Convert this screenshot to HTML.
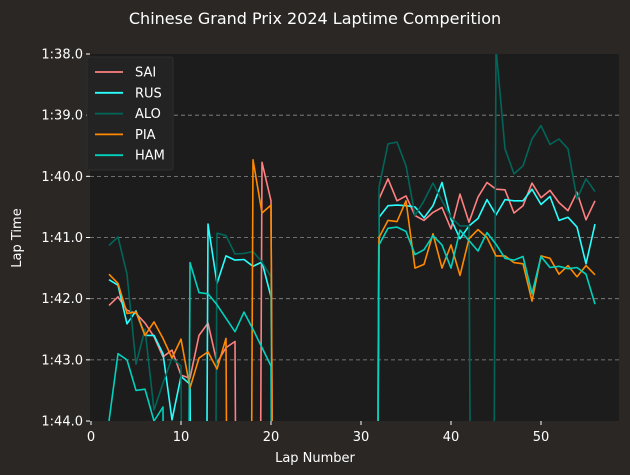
<!DOCTYPE html>
<html><head><meta charset="utf-8"><style>
html,body{margin:0;padding:0;width:630px;height:475px;overflow:hidden;background:#2b2725;}
svg{display:block;font-family:"DejaVu Sans","Liberation Sans",sans-serif;}
</style></head><body>
<svg id="chart" width="630" height="475">
<rect width="630" height="475" fill="#2b2725"/>
<text x="315" y="24" fill="#ffffff" font-size="16" text-anchor="middle">Chinese Grand Prix 2024 Laptime Comperition</text>
<rect x="90" y="54" width="529" height="367" fill="#1c1c1c"/>
<defs><clipPath id="clip"><rect x="90" y="54" width="529" height="367"/></clipPath></defs>
<g id="grid"></g><g id="series" clip-path="url(#clip)"></g><g id="axes"></g>
<text x="315" y="462" fill="#ffffff" font-size="13" text-anchor="middle">Lap Number</text>
<text x="21" y="238" fill="#ffffff" font-size="13" text-anchor="middle" transform="rotate(-90 21 238)">Lap Time</text>
<g id="legend"></g>
</svg>
<script>
const B = 130; // pit / out-of-range laps
const laps = [];
for (let l = 1; l <= 56; l++) laps.push(l);
const drivers = ["SAI","RUS","ALO","PIA","HAM"];
const colors = ["#ff8080","#2affff","#00665a","#ff8a00","#00d2be"];
const xTicks = [0,10,20,30,40,50];
const yTicks = [98,99,100,101,102,103,104];
const yTickLabels = ["1:38.0","1:39.0","1:40.0","1:41.0","1:42.0","1:43.0","1:44.0"];
const SAI1 = [102.11,101.97,102.19,102.24,102.4,102.62,102.95,102.84,103.25,103.3,102.6,102.4,103.05,102.8,102.7,B,B,99.77,100.4,B];
const PIA1 = [101.6,101.75,102.24,102.22,102.6,102.38,102.65,102.97,102.66,103.46,102.97,102.87,103.15,102.65,B,B,99.73,100.6,100.47,B];
const RUS1 = [101.69,101.78,102.41,102.2,102.6,102.6,102.9,103.98,103.27,103.4,B,100.78,101.75,101.3,101.37,101.36,101.47,101.4,101.97,B];
const HAM1 = [104.0,102.9,103.0,103.5,103.48,104.0,103.77,B,B,101.41,101.9,101.92,102.1,102.32,102.54,102.22,102.5,102.8,103.1,B];
const ALO1 = [101.13,100.99,101.6,103.07,102.5,103.82,103.38,102.97,103.1,B,B,B,100.93,100.97,101.27,101.26,101.23,101.4,101.64,B];
const SAI2 = [100.37,100.04,100.4,100.32,100.64,100.72,100.59,100.51,100.86,100.29,100.75,100.34,100.1,100.21,100.22,100.6,100.48,100.11,100.35,100.23,100.43,100.56,100.26,100.71,100.4];
const RUS2 = [100.67,100.48,100.47,100.48,100.5,100.68,100.48,100.1,100.7,101.02,100.81,100.69,100.38,100.63,100.38,100.4,100.4,100.21,100.46,100.33,100.72,100.67,100.83,101.43,100.78];
const ALO2 = [100.18,99.47,99.44,99.83,100.64,100.4,100.11,100.4,100.67,100.81,100.81,B,B,97.9,99.55,99.96,99.83,99.39,99.17,99.48,99.39,99.55,100.37,100.04,100.25];
const PIA2 = [101.0,100.72,100.74,100.4,101.5,101.44,100.94,101.5,101.12,101.62,101.02,100.87,101.0,101.3,101.3,101.41,101.43,102.04,101.3,101.34,101.6,101.46,101.64,101.46,101.61];
const HAM2 = [101.12,100.85,100.83,100.9,101.28,101.2,100.97,101.12,101.5,100.88,101.05,101.22,100.92,101.11,101.34,101.37,101.31,101.92,101.31,101.49,101.47,101.51,101.49,101.6,102.09];
function build(a,b){const r=[null];r.push(...a);for(let i=22;i<=30;i++)r.push(null);r.push(B);r.push(...b);return r;}
const series = [build(SAI1,SAI2),build(RUS1,RUS2),build(ALO1,ALO2),build(PIA1,PIA2),build(HAM1,HAM2)];
const xs = l => 91 + l*9;
const ys = t => 54 + (t-98)*61.17;
const NS="http://www.w3.org/2000/svg";
function mk(tag,attrs,parent){const e=document.createElementNS(NS,tag);for(const k in attrs)e.setAttribute(k,attrs[k]);parent.appendChild(e);return e;}
const grid=document.getElementById('grid'),axes=document.getElementById('axes'),sg=document.getElementById('series'),lg=document.getElementById('legend');
yTicks.forEach((t,i)=>{
  const y=ys(t);
  if(i>0&&i<yTicks.length-1){const g=mk('line',{x1:90,x2:619,y1:y,y2:y,stroke:'#8a8a8a','stroke-width':0.8,'stroke-dasharray':'4,3'},grid);
  
  }
  const tk=mk('line',{x1:86,x2:90,y1:y,y2:y,stroke:'#ffffff'},axes);
  
  
  const tx=mk('text',{x:83,y:y+4.5,fill:'#ffffff','font-size':13,'text-anchor':'end'},axes);
  tx.textContent=yTickLabels[i];
  
  
});
xTicks.forEach(v=>{
  const x=xs(v);
  const tk=mk('line',{x1:x,x2:x,y1:421,y2:425,stroke:'#ffffff'},axes);
  
  
  const tx=mk('text',{x:x,y:441,fill:'#ffffff','font-size':13,'text-anchor':'middle'},axes);
  tx.textContent=v;
  
  
});
series.forEach((s,di)=>{
  let seg=[];
  const flush=()=>{if(seg.length>1){const p=mk('polyline',{points:seg.join(' '),fill:'none',stroke:colors[di],'stroke-width':1.6,'stroke-linejoin':'round'},sg);
    
    }seg=[];};
  s.forEach((t,i)=>{if(t===null){flush();}else seg.push(xs(laps[i]).toFixed(1)+','+ys(t).toFixed(1));});
  flush();
});
const box=mk('rect',{x:87,y:57,width:86,height:113,fill:'#232323',stroke:'#2e2e2e',rx:2},lg);


drivers.forEach((d,i)=>{
  const y=72+i*20.8;
  const l=mk('line',{x1:95,x2:123,y1:y,y2:y,stroke:colors[i],'stroke-width':1.8},lg);
  
  
  const t=mk('text',{x:135,y:y+4.5,fill:'#ffffff','font-size':13},lg);
  t.textContent=d;
  
  
});
</script>
</body></html>
